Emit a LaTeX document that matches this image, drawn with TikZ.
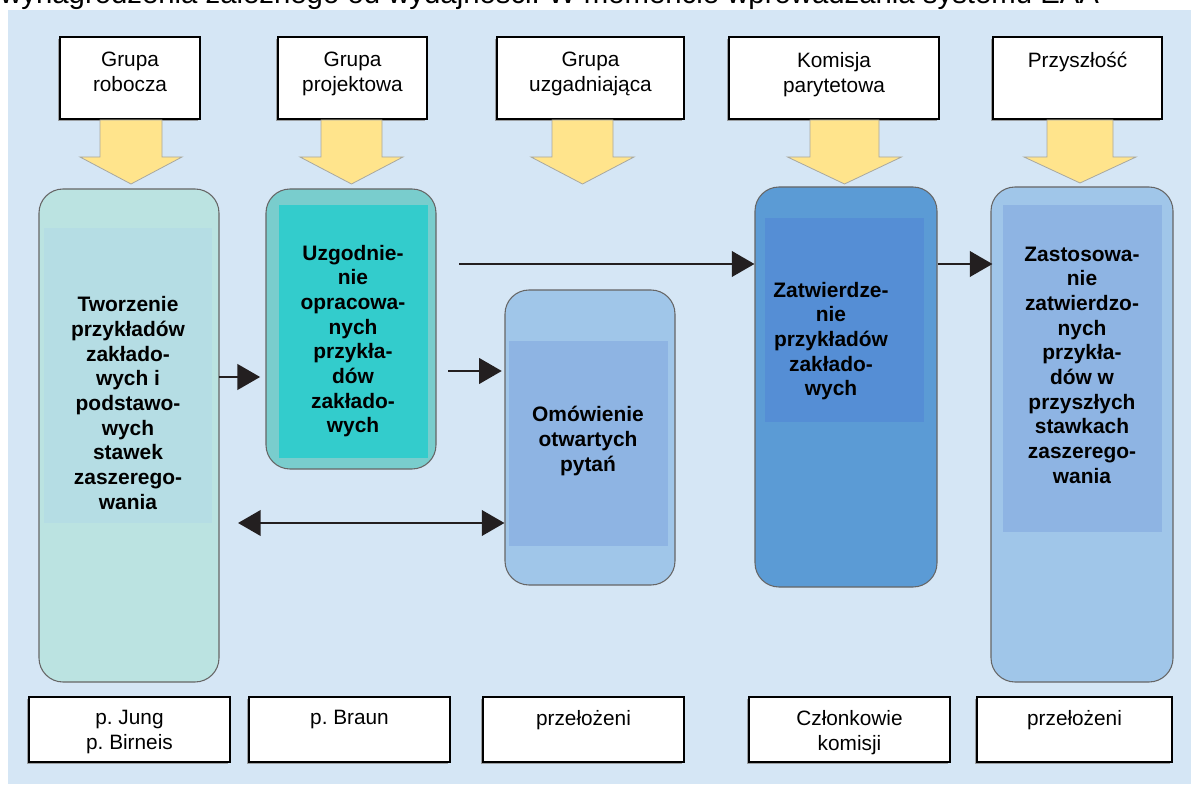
\documentclass[tikz,border=0pt]{standalone}
\usepackage{fontspec}
\setmainfont{Liberation Sans}
\usetikzlibrary{arrows.meta,fit,calc,shadows}
\frenchspacing
\definecolor{panel}{HTML}{D5E6F5}
\definecolor{yel}{HTML}{FFE48C}
\definecolor{yelline}{HTML}{A8A8A0}
\definecolor{aOut}{HTML}{BBE3E1}
\definecolor{aIn}{HTML}{B5DDE4}
\definecolor{bOut}{HTML}{79CDCD}
\definecolor{bIn}{HTML}{33CCCC}
\definecolor{cOut}{HTML}{A0C6E9}
\definecolor{cIn}{HTML}{8EB4E3}
\definecolor{dOut}{HTML}{5B9BD5}
\definecolor{dIn}{HTML}{558ED5}
\definecolor{arrcol}{HTML}{231F20}
\newcommand\yarrow[6]{%
  \filldraw[yarrowst] (#1-#2,#4) -- (#1+#2,#4) -- (#1+#2,#5) -- (#1+#3,#5)
     -- (#1,#6) -- (#1-#3,#5) -- (#1-#2,#5) -- cycle;}
\begin{document}
\begin{tikzpicture}[x=0.75pt,y=-0.75pt,
  labelbox/.style={draw=black, line width=0.9pt, fill=white, inner sep=0pt,
     drop shadow={shadow xshift=-1.2pt, shadow yshift=-1.5pt, fill=black!45, opacity=0.8}},
  lbl/.style={font=\fontsize{15.6}{18.8}\selectfont, align=center, inner sep=0pt},
  bold/.style={font=\fontsize{15.7}{18.5}\selectfont\bfseries, align=center, inner sep=0pt},
  mbox/.style={draw=black!60, line width=0.8pt, rounded corners=18pt, inner sep=0pt},
  yarrowst/.style={fill=yel, draw=yelline, line width=0.6pt},
  arr/.style={draw=arrcol, line width=2.2pt, -{Triangle[length=17pt,width=19pt]}},
  darr/.style={draw=arrcol, line width=2.2pt, {Triangle[length=17pt,width=19pt]}-{Triangle[length=17pt,width=19pt]}}
]
\useasboundingbox (0,0) rectangle (1195,787);
\clip (0,0) rectangle (1195,787);
\fill[panel] (8,10) rectangle (1191,784);
\node[anchor=base west, font=\fontsize{22}{26}\selectfont, inner sep=0pt] (title) at (0,4)
  {wynagrodzenia zależnego od wydajności. W momencie wprowadzania systemu EAA};

% top label boxes
\node[labelbox, fit={(60,37)(200,119)}] (t1) {};
\node[labelbox, fit={(278,37)(427,119)}] (t2) {};
\node[labelbox, fit={(497,37)(684,119)}] (t3) {};
\node[labelbox, fit={(729,37)(939,119)}] (t4) {};
\node[labelbox, fit={(993,37)(1162,119)}] (t5) {};
\node[lbl, anchor=north] (l1) at ($(t1.north)+(0,15.5)$) {Grupa\\robocza};
\node[lbl, anchor=north] (l2) at ($(t2.north)+(0,15.5)$) {Grupa\\projektowa};
\node[lbl, anchor=north] (l3) at ($(t3.north)+(0,15.5)$) {Grupa\\uzgadniająca};
\node[lbl, anchor=north] (l4) at ($(t4.north)+(0,15.5)$) {Komisja\\parytetowa};
\node[lbl, anchor=north] (l5) at ($(t5.north)+(0,15.5)$) {Przyszłość};

% yellow block arrows
\yarrow{131}{31}{51}{120}{157}{184}
\yarrow{351.5}{30.5}{51.5}{120}{157}{184}
\yarrow{582.5}{30.5}{51.5}{120}{157}{184}
\yarrow{844.5}{34.5}{57}{120}{157}{184}
\yarrow{1080}{33}{56}{120}{157}{183}

% main rounded boxes
\node[mbox, fill=aOut, fit={(39,189)(219,682)}] (b1) {};
\fill[aIn] (44,228) rectangle (212,523);
\node[mbox, fill=bOut, fit={(266,189)(436,469)}] (b2) {};
\fill[bIn] (279,205) rectangle (428,458);
\node[mbox, fill=cOut, fit={(505,290)(675,585)}] (b3) {};
\fill[cIn] (509,341) rectangle (668,546);
\node[mbox, fill=dOut, fit={(755,187)(937,587)}] (b4) {};
\fill[dIn] (765,218) rectangle (924,422);
\node[mbox, fill=cOut, fit={(991,187)(1173,682)}] (b5) {};
\fill[cIn] (1003,205) rectangle (1162,532);

\node[bold] (x1) at (128,403) {Tworzenie\\przykładów\\zakłado-\\wych i\\podstawo-\\wych\\stawek\\zaszerego-\\wania};
\node[bold] (x2) at (353,341) {Uzgodnie-\\nie\\opracowa-\\nych\\przykła-\\dów\\zakłado-\\wych};
\node[bold] (x3) at (588,441) {Omówienie\\otwartych\\pytań};
\node[bold] (x4) at (831,341) {Zatwierdze-\\nie\\przykładów\\zakłado-\\wych};
\node[bold] (x5) at (1082,365) {Zastosowa-\\nie\\zatwierdzo-\\nych\\przykła-\\dów w\\przyszłych\\stawkach\\zaszerego-\\wania};

% connectors
\coordinate (s1) at (459,264);
\draw[arr] (s1) -- (s1 -| b4.west);
\draw[arr] (b4.east |- s1) -- ($(b5.west |- s1)+(2,0)$);
\coordinate (s2) at (219,377);
\draw[arr, shorten >=4pt] (s2) -- (s2 -| b2.west);
\coordinate (s3) at (448,371);
\draw[arr, shorten >=2pt] (s3) -- (s3 -| b3.west);
\coordinate (s4) at (238,523);
\draw[darr] (s4) -- (s4 -| b3.west);

% bottom boxes
\node[labelbox, fit={(29,697)(230,762)}] (p1) {};
\node[labelbox, fit={(249,697)(450,762)}] (p2) {};
\node[labelbox, fit={(483,697)(684,762)}] (p3) {};
\node[labelbox, fit={(749,697)(950,762)}] (p4) {};
\node[labelbox, fit={(977,697)(1172,762)}] (p5) {};
\node[lbl, anchor=north] (q1) at ($(p1.north)+(0,13.5)$) {p. Jung\\p. Birneis};
\node[lbl, anchor=north] (q2) at ($(p2.north)+(0,13.5)$) {p. Braun};
\node[lbl, anchor=north] (q3) at ($(p3.north)+(0,13.5)$) {przełożeni};
\node[lbl, anchor=north] (q4) at ($(p4.north)+(0,13.5)$) {Członkowie\\komisji};
\node[lbl, anchor=north] (q5) at ($(p5.north)+(0,13.5)$) {przełożeni};
\end{tikzpicture}
\end{document}
